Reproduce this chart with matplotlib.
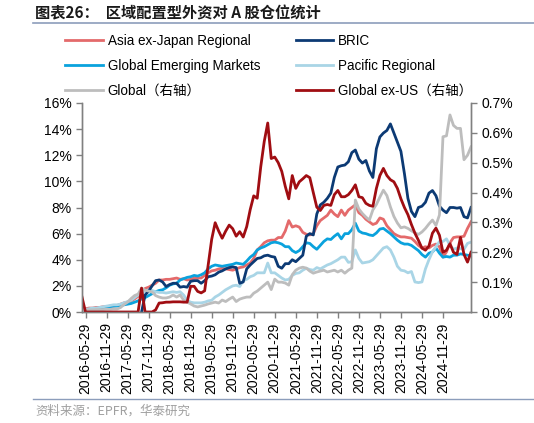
import matplotlib
matplotlib.use('Agg')
import matplotlib.pyplot as plt
import numpy as np
import pandas as pd
from matplotlib.ticker import FuncFormatter, MultipleLocator

plt.rcParams['font.family'] = ['Liberation Sans', 'Noto Sans CJK SC', 'DejaVu Sans']
plt.rcParams['font.size'] = 10

# monthly observations, 2016-04 .. 2025-07 (dated the 29th)
months = pd.period_range('2016-04', periods=112, freq='M')

asia_ex_japan = [0.2, 0.25, 0.3, 0.3, 0.35, 0.35, 0.4, 0.4, 0.45, 0.45, 0.5, 0.6, 0.7, 0.75, 0.85, 1.0,
                 1.2, 1.5, 1.8, 1.9, 2.05, 2.2, 2.45, 2.45, 2.5, 2.5, 2.55, 2.6, 2.5, 2.55, 2.45, 2.5,
                 2.6, 2.6, 2.6, 2.8, 3.0, 3.15, 3.2, 3.3, 3.35, 3.3, 3.25, 3.2, 3.3, 3.4, 3.45, 3.6,
                 3.75, 4.1, 4.75, 5.0, 5.3, 5.45, 5.5, 5.5, 5.7, 5.7, 6.2, 7.0, 6.5, 6.6, 6.5, 6.1,
                 5.95, 5.9, 6.0, 6.6, 7.0, 7.2, 7.4, 7.8, 7.5, 7.3, 7.8, 7.4, 7.8, 8.0, 8.2, 7.6,
                 7.4, 7.1, 6.9, 6.7, 6.8, 7.2, 7.1, 6.6, 6.3, 6.0, 5.85, 5.75, 5.75, 5.7, 5.65, 5.4,
                 5.1, 4.9, 5.0, 4.9, 5.1, 5.2, 5.0, 4.2, 4.6, 5.3, 5.7, 5.75, 5.75, 5.8, 6.4, 6.9]

bric = [np.nan] * 17 + [
    0.0, 1.3, 1.6, 2.0, 2.4, 2.45, 2.3, 1.95, 2.1, 2.2, 2.2, 1.9, 1.95, 1.9, 2.35, 2.4,
    2.4, 2.2, 2.4, 2.7, 2.75, 2.85, 3.05, 3.15, 3.3, 3.4, 3.45, 3.4, 2.2, 2.3, 3.3, 3.6,
    3.85, 4.1, 4.15, 4.3, 4.35, 4.25, 4.2, 3.5, 3.35, 3.7, 3.7, 4.0, 3.85, 4.1, 4.35, 5.8,
    6.0, 5.9, 7.5, 8.2, 8.4, 8.7, 9.1, 10.3, 11.1, 11.2, 11.25, 11.5, 12.2, 12.4, 11.7, 11.4,
    11.6, 10.8, 10.3, 12.5, 13.4, 13.7, 13.9, 14.4, 13.7, 13.0, 12.3, 10.6, 8.7, 7.7, 7.3, 8.0,
    8.1, 8.4, 9.1, 9.3, 8.9, 8.1, 7.8, 7.6, 8.0, 8.0, 7.95, 8.0, 7.3, 7.2, 8.0]

gem = [0.15, 0.15, 0.2, 0.2, 0.25, 0.3, 0.35, 0.35, 0.4, 0.45, 0.45, 0.5, 0.55, 0.6, 0.65, 0.75,
       0.85, 1.0, 1.1, 1.25, 1.4, 1.55, 1.65, 1.7, 1.85, 2.05, 2.15, 2.2, 2.45, 2.55, 2.65, 2.7,
       2.8, 2.75, 2.85, 3.0, 3.3, 3.5, 3.6, 3.55, 3.5, 3.55, 3.6, 3.65, 3.75, 3.7, 3.65, 3.9,
       4.2, 4.4, 4.75, 4.9, 5.0, 5.15, 5.3, 5.35, 5.3, 5.2, 5.0, 5.0, 4.7, 4.55, 4.7, 5.0,
       5.3, 5.25, 5.0, 4.8, 5.1, 5.4, 5.6, 5.55, 5.8, 6.0, 5.6, 6.0, 6.0, 6.3, 6.8, 6.2,
       6.05, 6.0, 5.9, 5.85, 6.05, 6.35, 6.4, 6.2, 6.0, 5.75, 5.5, 5.3, 5.2, 5.2, 5.1, 4.9,
       4.7, 4.4, 4.2, 4.5, 4.6, 4.9, 4.5, 4.2, 4.25, 4.2, 4.35, 4.35, 4.45, 4.4, 4.35, 4.3]

pacific = [0.15, 0.2, 0.25, 0.3, 0.3, 0.35, 0.4, 0.45, 0.5, 0.55, 0.55, 0.6, 0.7, 0.8, 0.9, 1.1,
           1.3, 1.45, 1.6, 1.7, 1.65, 1.55, 1.5, 1.5, 1.45, 1.5, 1.55, 1.5, 1.55, 1.3, 0.9, 0.75,
           0.7, 0.7, 0.7, 0.75, 0.85, 0.9, 1.15, 1.3, 1.5, 1.7, 1.85, 2.0, 2.05, 1.95, 2.4, 2.5,
           2.7, 2.8, 3.0, 3.0, 3.0, 3.75, 3.0, 3.0, 2.8, 2.6, 2.45, 2.5, 2.8, 2.95, 3.0, 3.2,
           3.35, 3.25, 3.2, 3.4, 3.3, 3.45, 3.6, 3.7, 3.85, 4.0, 4.2, 4.2, 3.8, 3.85, 4.75, 4.1,
           3.75, 3.8, 3.85, 4.0, 4.3, 4.6, 4.9, 5.0, 4.75, 4.2, 3.5, 3.2, 3.15, 3.0, 3.1, 2.3,
           2.25, 2.3, 3.3, 4.0, 4.6, 5.0, 5.4, 5.4, 5.6, 5.1, 4.8, 4.9, 4.85, 4.8, 5.25, 5.35]

# right axis
global_all = [0.005, 0.007, 0.007, 0.007, 0.008, 0.008, 0.008, 0.009, 0.009, 0.01, 0.01, 0.015, 0.025, 0.033, 0.045, 0.055,
              0.06, 0.08, 0.073, 0.07, 0.067, 0.055, 0.05, 0.047, 0.047, 0.05, 0.057, 0.05, 0.057, 0.04, 0.033, 0.027,
              0.02, 0.017, 0.02, 0.023, 0.027, 0.03, 0.033, 0.03, 0.04, 0.035, 0.043, 0.05, 0.035, 0.043, 0.047, 0.05,
              0.05, 0.063, 0.07, 0.08, 0.09, 0.1, 0.075, 0.11, 0.1, 0.1, 0.097, 0.09, 0.125, 0.14, 0.147, 0.15,
              0.147, 0.137, 0.13, 0.134, 0.137, 0.14, 0.134, 0.137, 0.14, 0.134, 0.14, 0.13, 0.14, 0.147, 0.375, 0.345,
              0.33, 0.318, 0.308, 0.342, 0.36, 0.385, 0.408, 0.39, 0.352, 0.32, 0.298, 0.282, 0.285, 0.28, 0.272, 0.265,
              0.26, 0.268, 0.28, 0.295, 0.308, 0.29, 0.325, 0.587, 0.59, 0.66, 0.625, 0.615, 0.615, 0.51, 0.525, 0.553]

global_ex_us = [0.05] + [0.0] * 16 + [0.08, 0.0, 0.0, 0.0, 0.007, 0.03,
                0.031, 0.033, 0.033, 0.034, 0.034, 0.034, 0.033, 0.033, 0.086, 0.086, 0.069, 0.064, 0.071, 0.157, 0.243, 0.299,
                0.271, 0.247, 0.271, 0.291, 0.279, 0.254, 0.269, 0.251, 0.286, 0.343, 0.389, 0.381, 0.486, 0.571, 0.633, 0.514,
                0.519, 0.5, 0.471, 0.421, 0.379, 0.457, 0.414, 0.436, 0.446, 0.457, 0.45, 0.4, 0.351, 0.34, 0.357, 0.36,
                0.357, 0.393, 0.407, 0.386, 0.386, 0.393, 0.407, 0.426, 0.386, 0.383, 0.364, 0.357, 0.354, 0.414, 0.457, 0.481,
                0.457, 0.443, 0.436, 0.414, 0.379, 0.35, 0.326, 0.293, 0.264, 0.24, 0.214, 0.207, 0.221, 0.264, 0.281, 0.257,
                0.2, 0.207, 0.229, 0.2, 0.193, 0.25, 0.193, 0.167, 0.2]

x = np.arange(len(months))
tick_idx = list(range(1, 104, 6))
tick_labels = [f'{months[i].strftime("%Y-%m")}-29' for i in tick_idx]

fig = plt.figure(figsize=(5.34, 4.23), dpi=100)
ax = fig.add_axes([82 / 534, 1 - 312 / 423, (471 - 82) / 534, 209 / 423])
ax2 = ax.twinx()

lw = 2.0
l1, = ax.plot(x, asia_ex_japan, color='#e46a6b', lw=lw, label='Asia ex-Japan Regional')
l3, = ax.plot(x, gem, color='#0aa2dd', lw=lw, label='Global Emerging Markets')
l4, = ax.plot(x, pacific, color='#a9d5e6', lw=lw, label='Pacific Regional')
l2, = ax.plot(x, bric, color='#0c3a74', lw=lw, label='BRIC')
l5, = ax2.plot(x, global_all, color='#bdbdbd', lw=lw, label='Global（右轴）')
l6, = ax2.plot(x, global_ex_us, color='#a00d12', lw=lw, label='Global ex-US（右轴）')

ax.set_xlim(0, 111)
ax.set_ylim(0, 16)
ax2.set_ylim(0, 0.7)
ax.yaxis.set_major_locator(MultipleLocator(2))
ax2.yaxis.set_major_locator(MultipleLocator(0.1))
ax.yaxis.set_major_formatter(FuncFormatter(lambda v, p: f'{v:.0f}%'))
ax2.yaxis.set_major_formatter(FuncFormatter(lambda v, p: f'{v:.1f}%'))
ax.set_xticks(tick_idx)
ax.set_xticklabels(tick_labels, rotation=90)

spine_c = '#808080'
for a in (ax, ax2):
    a.spines['top'].set_visible(False)
    for s in ('left', 'right', 'bottom'):
        a.spines[s].set_color(spine_c)
        a.spines[s].set_linewidth(1.0)
    a.tick_params(direction='out', length=4, color=spine_c, labelsize=10, width=1.0)

order = [l1, l3, l5, l2, l4, l6]
fig.legend(order, [h.get_label() for h in order],
           ncol=2, loc='upper left', bbox_to_anchor=(53 / 534, 1 - 22 / 423),
           frameon=False, handlelength=2.8, labelspacing=0.8, columnspacing=2.6,
           fontsize=9.75, handletextpad=0.35)

fig.text(35 / 534, 1 - 13 / 423, '图表26：  区域配置型外资对 A 股仓位统计', fontsize=11, fontweight='bold',
         va='center', ha='left', family=['Noto Sans CJK SC', 'DejaVu Sans'], color='#1a1a1a')
fig.add_artist(plt.Line2D([33 / 534, 1], [1 - 23 / 423] * 2, color='#8c9dbb', lw=1.2))
fig.add_artist(plt.Line2D([33 / 534, 1], [1 - 399 / 423] * 2, color='#8c9dbb', lw=1.0))
fig.text(35 / 534, 1 - 411 / 423, '资料来源：EPFR，华泰研究', fontsize=9, color='#a0a0a0',
         va='center', ha='left', family=['Noto Sans CJK SC', 'DejaVu Sans'])

fig.savefig('out.png', dpi=100)
